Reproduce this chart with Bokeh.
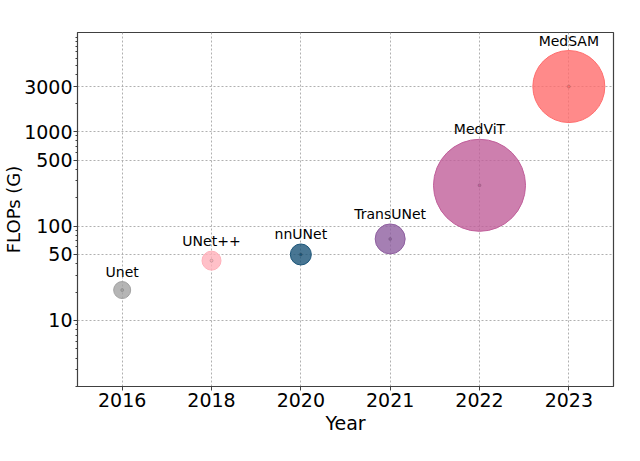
from bokeh.plotting import figure
from bokeh.models import ColumnDataSource, FactorRange, Range1d, FixedTicker
from bokeh.core.properties import value
from bokeh.embed import file_html
from bokeh.resources import INLINE

# ---- data ----
years = ["2016", "2018", "2020", "2021", "2022", "2023"]
models = ["Unet", "UNet++", "nnUNet", "TransUNet", "MedViT", "MedSAM"]
flops = [21, 43, 50, 73, 270, 3000]
bubble_px = [17, 19, 21, 30, 92, 72]
colors = ["#a2a2a2", "#ffb0ba", "#1a5478", "#8f5fa0", "#c05f9a", "#ff6d6d"]
y_ticks = [10, 50, 100, 500, 1000, 3000]

minor = [m * 10 ** k for k in range(0, 5) for m in range(1, 10)]
minor = [t for t in minor if t not in y_ticks and 2 <= t <= 11200]

src = ColumnDataSource(dict(
    x=years, y=flops, size=bubble_px, color=colors, name=models,
    off=[-(s / 2 + 2) for s in bubble_px],
))

FONT = "DejaVu Sans"

p = figure(
    width=640, height=461,
    x_range=FactorRange(factors=years),
    y_range=Range1d(2.0, 11200),
    y_axis_type="log",
    output_backend="svg", toolbar_location=None,
    min_border_left=77, min_border_right=27, min_border_top=32, min_border_bottom=75,
)
p.background_fill_color = "white"
p.border_fill_color = "white"
p.outline_line_color = "#404040"
p.outline_line_width = 1.2

p.scatter(x="x", y="y", size="size", source=src, fill_color="color", fill_alpha=0.8,
          line_color="color", line_alpha=1.0, line_width=1)
p.scatter(x="x", y="y", size=3, source=src, fill_color="color", fill_alpha=1.0,
          line_color="#555555", line_alpha=0.5, line_width=0.5)
p.text(x="x", y="y", text="name", source=src, y_offset="off",
       text_align="center", text_baseline="bottom",
       text_font=value(FONT), text_font_size="14px", text_color="black")

# axes
p.yaxis.ticker = FixedTicker(ticks=y_ticks, minor_ticks=minor)
p.yaxis.major_label_overrides = {t: str(t) for t in y_ticks}
for ax in (p.xaxis[0], p.yaxis[0]):
    ax.major_label_text_font = FONT
    ax.major_label_text_font_size = "19px"
    ax.major_label_text_color = "black"
    ax.axis_line_color = "#404040"
    ax.major_tick_line_color = "#404040"
    ax.major_tick_out = 4
    ax.major_tick_in = 0
    ax.axis_label_text_font = FONT
    ax.axis_label_text_font_size = "19px"
    ax.axis_label_text_font_style = "normal"
    ax.axis_label_text_color = "black"
p.yaxis.minor_tick_line_color = "#404040"
p.yaxis.minor_tick_out = 2
p.yaxis.minor_tick_in = 0
p.yaxis.major_label_standoff = 1
p.xaxis.major_label_standoff = 2
p.xaxis.axis_label = "Year"
p.xaxis.axis_label_standoff = 2
p.yaxis.axis_label = "FLOPs (G)"
p.yaxis.axis_label_text_font_size = "18px"
p.yaxis.axis_label_standoff = -3

# grid
for g in (p.xgrid[0], p.ygrid[0]):
    g.grid_line_color = "#b0b0b0"
    g.grid_line_dash = "2 2"
    g.grid_line_width = 1
p.ygrid.ticker = FixedTicker(ticks=y_ticks)

open("out.html", "w").write(file_html(p, INLINE))
